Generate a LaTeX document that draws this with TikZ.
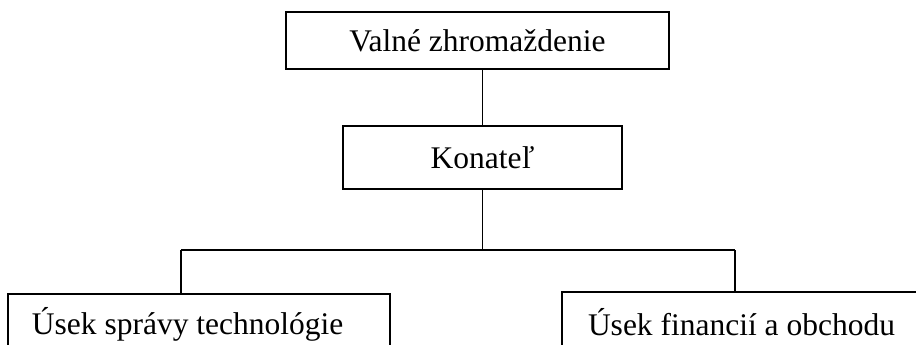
\documentclass[tikz,border=0pt]{standalone}
\usepackage{fontspec}
\setmainfont{Liberation Serif}
\usetikzlibrary{positioning}

\tikzset{
  orgbox/.style={draw, rectangle, line width=0.65pt, inner sep=0pt,
    font=\fontsize{15.75}{19}\selectfont},
  orgline/.style={line width=0.65pt},
}

\begin{document}
\begin{tikzpicture}[x=0.5pt, y=-0.5pt]

% page frame
\useasboundingbox (0,0) rectangle (916,344);
\clip (0,0) rectangle (916,344);

\def \yBar {250}

% Top box
\node[orgbox, minimum width=191.5pt, minimum height=28.5pt] (valne) at (477.5,40.5) {Valné zhromaždenie};

% Middle box
\node[orgbox, minimum width=139.5pt, minimum height=31.5pt] (konatel) at (482.5,157.5) {Konateľ};

% Bottom boxes (cut by the page edge)
\node[orgbox, minimum width=191pt, minimum height=30pt, text width=167pt, align=flush left] (usekTech) at (199,324) {Úsek správy technológie};
\node[orgbox, minimum width=189pt, minimum height=30pt, text width=163pt, align=flush left] (usekFin) at (751,322) {Úsek financií a obchodu};

% bar ends
\coordinate (barL) at (181,\yBar);
\coordinate (barR) at (735,\yBar);

% connectors
\draw[orgline] (konatel.north) -- (konatel.north |- valne.south);
\draw[orgline] (konatel.south) -- (konatel.south |- barL);
\draw[orgline] (barL) -- (barR);
\draw[orgline] (barL) -- (barL |- usekTech.north);
\draw[orgline] (barR) -- (barR |- usekFin.north);

\end{tikzpicture}
\end{document}
